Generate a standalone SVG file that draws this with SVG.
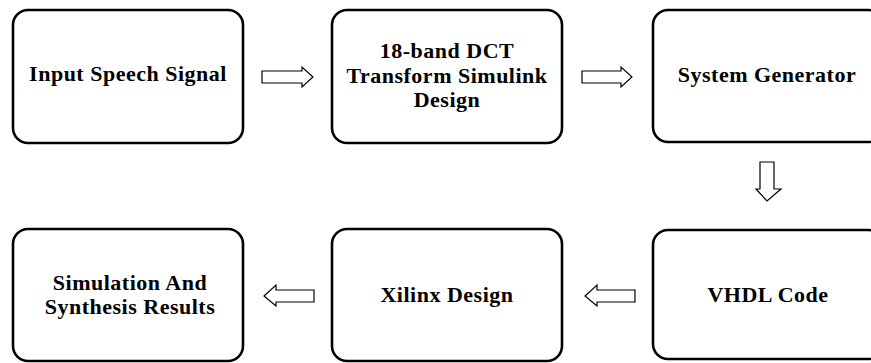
<svg xmlns="http://www.w3.org/2000/svg" width="871" height="363" viewBox="0 0 871 363">
<style>
.box{fill:#fff;stroke:#000;stroke-width:2.6}
.arr{fill:#fff;stroke:#000;stroke-width:1.2;stroke-linejoin:miter}
.t{font-family:'Liberation Serif',serif;font-weight:bold;font-size:22px;fill:#000;text-anchor:middle;letter-spacing:0.5px}
</style>
<rect width="871" height="363" fill="#fff"/>
<g id="input">
<rect class="box" x="13" y="10" width="230" height="133" rx="15"/>
<text class="t" x="128" y="81">Input Speech Signal</text>
</g>
<g id="dct">
<rect class="box" x="332" y="10" width="230" height="133" rx="15"/>
<text class="t" x="447" y="58">18-band DCT</text>
<text class="t" x="447" y="83">Transform Simulink</text>
<text class="t" x="447" y="107">Design</text>
</g>
<g id="sysgen">
<rect class="box" x="653" y="10" width="230" height="132" rx="15"/>
<text class="t" x="767" y="82">System Generator</text>
</g>
<g id="vhdl">
<rect class="box" x="653" y="230" width="230" height="129" rx="15"/>
<text class="t" x="768" y="302">VHDL Code</text>
</g>
<g id="xilinx">
<rect class="box" x="332" y="229" width="230" height="132" rx="15"/>
<text class="t" x="447" y="302">Xilinx Design</text>
</g>
<g id="results">
<rect class="box" x="13" y="229" width="230" height="132" rx="15"/>
<text class="t" x="130" y="290">Simulation And</text>
<text class="t" x="130" y="314">Synthesis Results</text>
</g>
<g id="connectors">
<polygon class="arr" points="262,71 302,71 302,67 313,77 302,87 302,83 262,83"/>
<polygon class="arr" points="582,71 621,71 621,67 632,77 621,87 621,83 582,83"/>
<polygon class="arr" points="760,162 774,162 774,189 781,189 767,201 756,189 760,189"/>
<polygon class="arr" points="635,290 597,290 597,285 585,296 597,306 597,302 635,302"/>
<polygon class="arr" points="314,290 276,290 276,285 264,296 276,306 276,302 314,302"/>
</g>
</svg>
